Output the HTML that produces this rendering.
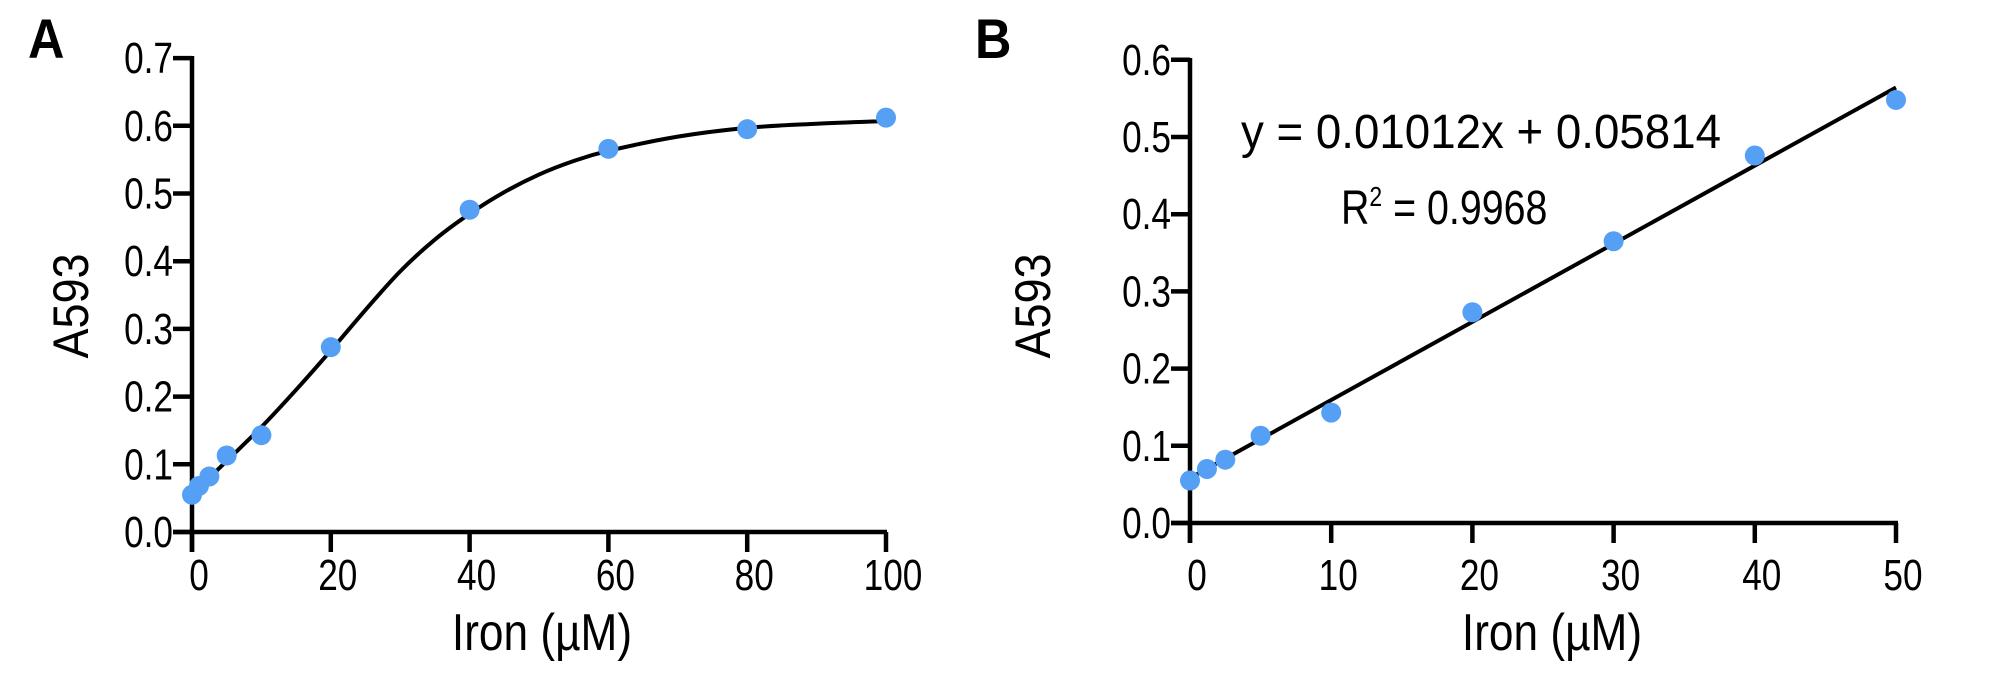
<!DOCTYPE html>
<html><head><meta charset="utf-8"><style>
html,body{margin:0;padding:0;background:#fff;}
svg{display:block;}
text{font-family:"Liberation Sans",sans-serif;fill:#000;}
</style></head><body>
<svg id="s" width="2000" height="675" viewBox="0 0 2000 675" xmlns="http://www.w3.org/2000/svg">
<text transform="translate(28,58) scale(0.9,1)" font-size="56" font-weight="bold">A</text>
<text transform="translate(975,58) scale(0.9,1)" font-size="56" font-weight="bold">B</text>
<g id="A"></g><g id="B"></g>
<text transform="translate(88,306) rotate(-90) scale(0.9,1)" font-size="50" text-anchor="middle">A593</text>
<text transform="translate(542,650) scale(0.85,1)" font-size="52" text-anchor="middle">Iron (µM)</text>
<text transform="translate(1050,306) rotate(-90) scale(0.9,1)" font-size="50" text-anchor="middle">A593</text>
<text transform="translate(1552,650) scale(0.85,1)" font-size="52" text-anchor="middle">Iron (µM)</text>
<text x="1241" y="148" font-size="48" textLength="480" lengthAdjust="spacingAndGlyphs">y = 0.01012x + 0.05814</text>
<text transform="translate(1341,224) scale(0.82,1)" font-size="48">R<tspan font-size="28" dy="-18">2</tspan><tspan dy="18"> = 0.9968</tspan></text>
</svg>
<script>
var NS="http://www.w3.org/2000/svg";
function el(p,t,a,txt){var e=document.createElementNS(NS,t);for(var k in a)e.setAttribute(k,a[k]);if(txt!=null)e.textContent=txt;p.appendChild(e);return e;}
function axes(g,x0,y0,x1,y1,ys,xs,fx,fy){
 el(g,"line",{x1:x0,y1:y1-2,x2:x0,y2:y0+20,stroke:"#000","stroke-width":4.5});
 el(g,"line",{x1:x0-19,y1:y0,x2:x1+2,y2:y0,stroke:"#000","stroke-width":4.5});
 ys.forEach(function(v){var y=fy(v);el(g,"line",{x1:x0-19,y1:y,x2:x0,y2:y,stroke:"#000","stroke-width":4.5});
  el(g,"text",{transform:"translate("+(x0-19)+","+(y+15)+") scale(0.8,1)","font-size":44,"text-anchor":"end"},v.toFixed(1));});
 xs.forEach(function(v){var x=fx(v);el(g,"line",{x1:x,y1:y0,x2:x,y2:y0+20,stroke:"#000","stroke-width":4.5});
  el(g,"text",{transform:"translate("+(x+7)+",590) scale(0.8,1)","font-size":44,"text-anchor":"middle"},String(v));});
}
function spline(c,fx,fy){
 var P=c.map(function(p){return [fx(p[0]),fy(p[1])]});
 var d="M"+P[0][0]+","+P[0][1];
 for(var i=0;i<P.length-1;i++){var p0=P[Math.max(0,i-1)],p1=P[i],p2=P[i+1],p3=P[Math.min(P.length-1,i+2)];
  d+=" C"+(p1[0]+(p2[0]-p0[0])/6)+","+(p1[1]+(p2[1]-p0[1])/6)+" "+(p2[0]-(p3[0]-p1[0])/6)+","+(p2[1]-(p3[1]-p1[1])/6)+" "+p2[0]+","+p2[1];}
 return d;
}
(function(){
 var g=document.getElementById("A");
 var fx=function(v){return 192+v*6.94}, fy=function(v){return 532-v*677};
 axes(g,192,532,885,58,[0,.1,.2,.3,.4,.5,.6,.7],[0,20,40,60,80,100],fx,fy);
 var c=[[0,0.055],[5,0.105],[10,0.155],[15,0.21],[20,0.268],[25,0.328],[30,0.385],[35,0.432],[40,0.47],[45,0.502],[50,0.528],[55,0.548],[60,0.563],[70,0.584],[80,0.597],[90,0.603],[100,0.607]];
 el(g,"path",{d:spline(c,fx,fy),fill:"none",stroke:"#000","stroke-width":4});
 [[0,0.055],[1,0.068],[2.5,0.082],[5,0.113],[10,0.143],[20,0.273],[40,0.476],[60,0.566],[80,0.595],[100,0.612]].forEach(function(p){
  el(g,"circle",{cx:fx(p[0]),cy:fy(p[1]),r:10,fill:"#55a0f5"});});
})();
(function(){
 var g=document.getElementById("B");
 var fx=function(v){return 1190+v*14.12}, fy=function(v){return 523-v*772};
 axes(g,1190,523,1896,60,[0,.1,.2,.3,.4,.5,.6],[0,10,20,30,40,50],fx,fy);
 el(g,"line",{x1:fx(0.3),y1:fy(0.01012*0.3+0.05814),x2:fx(50),y2:fy(0.01012*50+0.05814),stroke:"#000","stroke-width":4});
 [[0,0.055],[1.2,0.07],[2.5,0.082],[5,0.113],[10,0.143],[20,0.273],[30,0.365],[40,0.476],[50,0.548]].forEach(function(p){
  el(g,"circle",{cx:fx(p[0]),cy:fy(p[1]),r:10,fill:"#55a0f5"});});
})();
</script>
</body></html>
